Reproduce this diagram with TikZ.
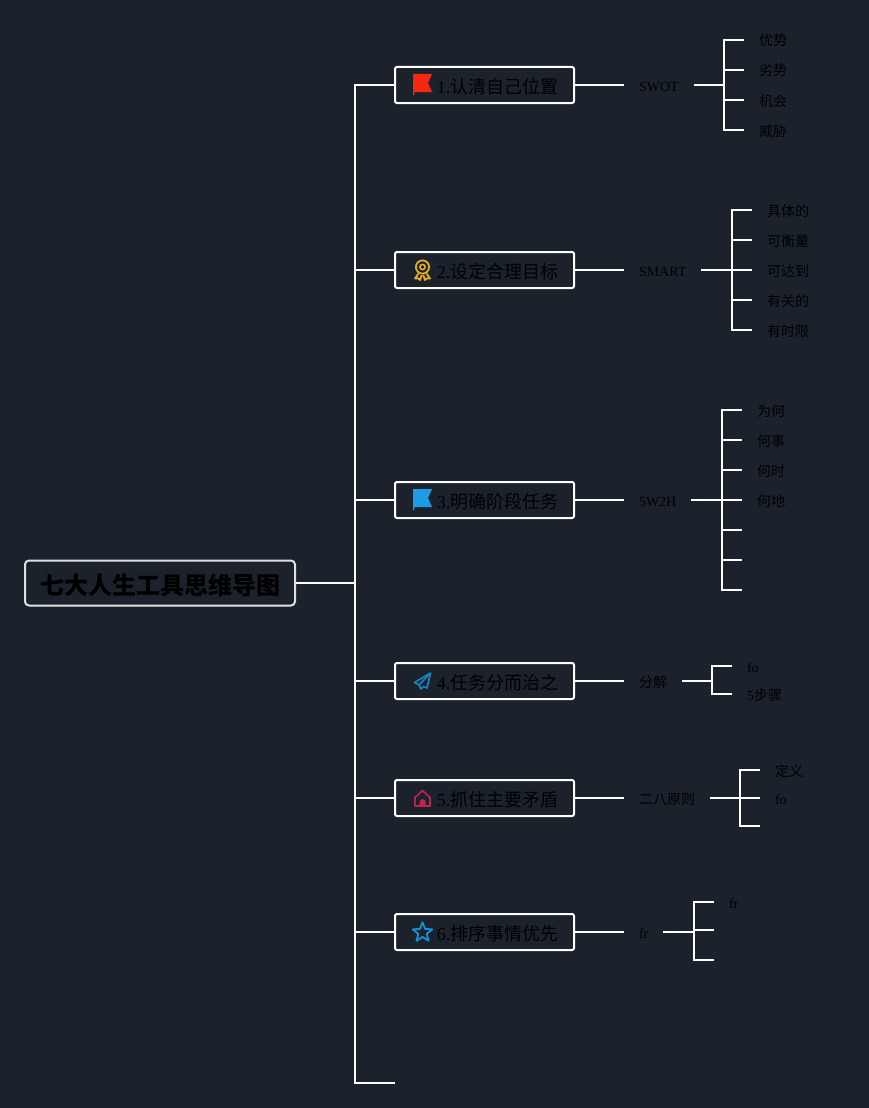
\documentclass[tikz,border=0pt]{standalone}
\usepackage{fontspec}
\setmainfont{Liberation Serif}
\newfontfamily\cjk{Noto Sans CJK SC}
\usepackage{tikz}
\usetikzlibrary{positioning,shapes.geometric}
\definecolor{bgdark}{HTML}{1B222C}
\definecolor{flagred}{HTML}{F5290F}
\definecolor{flagblue}{HTML}{1C9BE6}
\definecolor{medalgold}{HTML}{E5B020}
\definecolor{planeblue}{HTML}{1A80C0}
\definecolor{homered}{HTML}{C2214F}
\definecolor{starblue}{HTML}{1A8FD8}
\newcommand{\en}[1]{{\rmfamily #1}}
\tikzset{
  flagicon/.pic={
    \path[pic actions, draw=none] (0,-11) -- (19,-11) -- (15,-2) -- (19,7) -- (1.4,7) -- (1.4,10) -- (0,10) -- cycle;
  },
  medalicon/.pic={
    \draw[pic actions, fill=none, line width=1.8pt] (0,-3) circle (6.6);
    \draw[pic actions, fill=none, line width=1.6pt] (0,-3) circle (2.6);
    \draw[pic actions, fill=none, line width=1.8pt, line join=round] (-4,3.5) -- (-7.5,8.5) -- (-4.5,8.3) -- (-2.5,10) -- (-0.8,5);
    \draw[pic actions, fill=none, line width=1.8pt, line join=round] (4,3.5) -- (7.5,8.5) -- (4.5,8.3) -- (2.5,10) -- (0.8,5);
  },
  planeicon/.pic={
    \draw[pic actions, fill=none, line width=1.7pt, line join=round] (8,-8) -- (-8,1.5) -- (-3.5,4) -- (-1.5,8) -- (1,5.5) -- (4.5,7) -- cycle;
    \draw[pic actions, fill=none, line width=1.7pt, line join=round] (8,-8) -- (-3.5,4);
  },
  homeicon/.pic={
    \draw[pic actions, fill=none, line width=1.6pt, line join=round] (-7.5,-0.5) -- (0,-7.5) -- (7.5,-0.5) -- (7.5,8) -- (-7.5,8) -- cycle;
    \path[pic actions, draw=none] (-3,8) -- (-3,4) arc (180:360:3) -- (3,8) -- cycle;
  },
  staricon/.pic={
    \node[star, star points=5, star point ratio=2.3, minimum size=20.5pt, inner sep=0pt, pic actions, fill=none, line width=1.8pt, line join=round] (staricn) at (0,0.5) {};
  },
}
\begin{document}
\begin{tikzpicture}[
  x=1pt, y=-1pt,
  conn/.style={draw=white, line width=2pt},
  rootbox/.style={draw=white!88!black, line width=2pt, rounded corners=4pt, minimum width=270pt, minimum height=45pt, inner sep=0pt, text height=24pt, text depth=2pt, font=\cjk\bfseries\fontsize{24}{28}\selectfont},
  goalbox/.style={draw=white, line width=2pt, rounded corners=2pt, minimum width=179pt, minimum height=36pt, inner sep=0pt, outer sep=0pt, anchor=west, text height=18pt, text depth=2pt, font=\cjk\fontsize{18}{22}\selectfont},
  tool/.style={inner xsep=15pt, inner ysep=2pt, outer sep=0pt, anchor=west, text height=14pt, text depth=2pt, font=\cjk\fontsize{14}{17}\selectfont},
  leaf/.style={inner xsep=15pt, inner ysep=2pt, outer sep=0pt, anchor=west, text height=14pt, text depth=2pt, font=\cjk\fontsize{14}{17}\selectfont},
]
\fill[bgdark] (0,0) rectangle (869,1108);
\useasboundingbox (0,0) rectangle (869,1108);
\node[rootbox, text=black] (root) at (160,583) {七大人生工具思维导图};
\coordinate (trunk) at (355,583);
\coordinate (tail) at (395,1083);
% Goals
\node[goalbox] (goal1) at (395,85) {\hspace*{26pt}\en{1.}认清自己位置};
\node[goalbox] (goal2) at (395,270) {\hspace*{26pt}\en{2.}设定合理目标};
\node[goalbox] (goal3) at (395,500) {\hspace*{26pt}\en{3.}明确阶段任务};
\node[goalbox] (goal4) at (395,681) {\hspace*{26pt}\en{4.}任务分而治之};
\node[goalbox] (goal5) at (395,798) {\hspace*{26pt}\en{5.}抓住主要矛盾};
\node[goalbox] (goal6) at (395,932) {\hspace*{26pt}\en{6.}排序事情优先};
\draw[conn] (root) -- (trunk);
\draw[conn] (trunk) |- (goal1.west);
\draw[conn] (trunk) |- (goal2.west);
\draw[conn] (trunk) |- (goal3.west);
\draw[conn] (trunk) |- (goal4.west);
\draw[conn] (trunk) |- (goal5.west);
\draw[conn] (trunk) |- (goal6.west);
\draw[conn] (trunk) |- (tail);
% Icons
\pic[fill=flagred] at (413,85) {flagicon};
\pic[draw=medalgold] at (422.5,270) {medalicon};
\pic[fill=flagblue] at (413,500) {flagicon};
\pic[draw=planeblue] at (422.5,681) {planeicon};
\pic[draw=homered, fill=homered] at (422.5,798) {homeicon};
\pic[draw=starblue] at (422.5,932) {staricon};
% Tools
\node[tool] (swot) at (624,85) {\en{SWOT}};
\node[tool] (smart) at (624,270) {\en{SMART}};
\node[tool] (wh) at (624,500) {\en{5W2H}};
\node[tool] (split) at (624,681) {分解};
\node[tool] (pareto) at (624,798) {二八原则};
\node[tool] (fr) at (624,932) {\en{fr}};
\draw[conn] (goal1.east) -- (swot.west);
\draw[conn] (goal2.east) -- (smart.west);
\draw[conn] (goal3.east) -- (wh.west);
\draw[conn] (goal4.east) -- (split.west);
\draw[conn] (goal5.east) -- (pareto.west);
\draw[conn] (goal6.east) -- (fr.west);
% SWOT
\coordinate (swotfork) at (724,85);
\node[leaf] (swot1) at (744,40) {优势};
\node[leaf] (swot2) at (744,70) {劣势};
\node[leaf] (swot3) at (744,100) {机会};
\node[leaf] (swot4) at (744,130) {威胁};
\draw[conn] (swot.east) -- (swotfork);
\draw[conn] (swotfork) |- (swot1.west);
\draw[conn] (swotfork) |- (swot2.west);
\draw[conn] (swotfork) |- (swot3.west);
\draw[conn] (swotfork) |- (swot4.west);
% SMART
\coordinate (smartfork) at (732,270);
\node[leaf] (smart1) at (752,210) {具体的};
\node[leaf] (smart2) at (752,240) {可衡量};
\node[leaf] (smart3) at (752,270) {可达到};
\node[leaf] (smart4) at (752,300) {有关的};
\node[leaf] (smart5) at (752,330) {有时限};
\draw[conn] (smart.east) -- (smartfork);
\draw[conn] (smartfork) |- (smart1.west);
\draw[conn] (smartfork) |- (smart2.west);
\draw[conn] (smartfork) |- (smart3.west);
\draw[conn] (smartfork) |- (smart4.west);
\draw[conn] (smartfork) |- (smart5.west);
% 5W2H
\coordinate (whfork) at (722,500);
\node[leaf] (wh1) at (742,410) {为何};
\node[leaf] (wh2) at (742,440) {何事};
\node[leaf] (wh3) at (742,470) {何时};
\node[leaf] (wh4) at (742,500) {何地};
\node[leaf] (wh5) at (742,530) {};
\node[leaf] (wh6) at (742,560) {};
\node[leaf] (wh7) at (742,590) {};
\draw[conn] (wh.east) -- (whfork);
\draw[conn] (whfork) |- (wh1.west);
\draw[conn] (whfork) |- (wh2.west);
\draw[conn] (whfork) |- (wh3.west);
\draw[conn] (whfork) |- (wh4.west);
\draw[conn] (whfork) |- (wh5.west);
\draw[conn] (whfork) |- (wh6.west);
\draw[conn] (whfork) |- (wh7.west);
% Split
\coordinate (splitfork) at (712,681);
\node[leaf] (split1) at (732,666) {\en{fo}};
\node[leaf] (split2) at (732,694) {\en{5}步骤};
\draw[conn] (split.east) -- (splitfork);
\draw[conn] (splitfork) |- (split1.west);
\draw[conn] (splitfork) |- (split2.west);
% Pareto
\coordinate (paretofork) at (740,798);
\node[leaf] (pareto1) at (760,770) {定义};
\node[leaf] (pareto2) at (760,798) {\en{fo}};
\node[leaf] (pareto3) at (760,826) {};
\draw[conn] (pareto.east) -- (paretofork);
\draw[conn] (paretofork) |- (pareto1.west);
\draw[conn] (paretofork) |- (pareto2.west);
\draw[conn] (paretofork) |- (pareto3.west);
% fr
\coordinate (frfork) at (694,932);
\node[leaf] (fr1) at (714,902) {\en{fr}};
\node[leaf] (fr2) at (714,930) {};
\node[leaf] (fr3) at (714,960) {};
\draw[conn] (fr.east) -- (frfork);
\draw[conn] (frfork) |- (fr1.west);
\draw[conn] (frfork) |- (fr2.west);
\draw[conn] (frfork) |- (fr3.west);
\end{tikzpicture}
\end{document}
